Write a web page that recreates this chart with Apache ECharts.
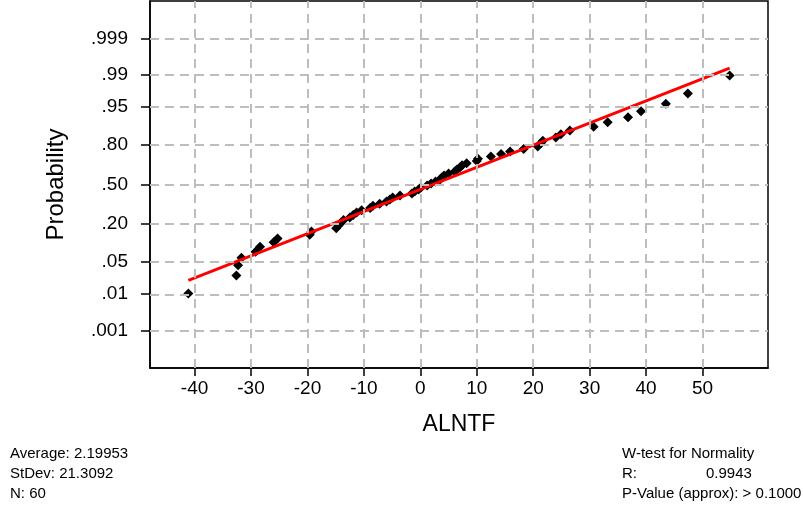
<!DOCTYPE html>
<html>
<head>
<meta charset="utf-8">
<script src="https://cdn.jsdelivr.net/npm/echarts@6/dist/echarts.min.js"></script>
<style>
html,body{margin:0;padding:0;background:#fff;}
#c{width:803px;height:508px;}
</style>
</head>
<body>
<div id="c"></div>
<script>
// ---- data ----
const values = [
  -41.1, -32.6, -32.3, -31.7, -29.2, -28.4, -26.0, -25.3, -19.6, -19.3,
  -14.9, -14.5, -14.0, -13.6, -12.5, -11.9, -11.3, -10.4, -8.9, -8.4,
  -7.2, -6.0, -5.4, -4.9, -3.6, -1.5, -1.0, -0.3, 0.1, 1.2,
  1.9, 2.7, 3.5, 3.8, 4.2, 5.0, 6.1, 6.5, 7.0, 7.4,
  8.2, 10.0, 10.2, 12.5, 14.3, 15.9, 18.3, 20.8, 21.3, 21.7,
  24.0, 24.9, 26.5, 30.7, 33.2, 36.8, 39.1, 43.5, 47.4, 54.8
];
const probTicks = [0.001, 0.01, 0.05, 0.20, 0.50, 0.80, 0.95, 0.99, 0.999];
const probLabels = ['.001', '.01', '.05', '.20', '.50', '.80', '.95', '.99', '.999'];
const xTicks = [-40, -30, -20, -10, 0, 10, 20, 30, 40, 50];
const average = 2.19953;
const stdev = 21.3092;
const statsLeft = ['Average: 2.19953', 'StDev: 21.3092', 'N: 60'];
const statsRightTitle = 'W-test for Normality';
const statsR = ['R:', '0.9943'];
const statsP = 'P-Value (approx): > 0.1000';

// inverse standard normal CDF (probability-scale transform)
function normInv(p){
  const a=[-3.969683028665376e+01,2.209460984245205e+02,-2.759285104469687e+02,1.383577518672690e+02,-3.066479806614716e+01,2.506628277459239e+00];
  const b=[-5.447609879822406e+01,1.615858368580409e+02,-1.556989798598866e+02,6.680131188771972e+01,-1.328068155288572e+01];
  const c=[-7.784894002430293e-03,-3.223964580411365e-01,-2.400758277161838e+00,-2.549732539343734e+00,4.374664141464968e+00,2.938163982698783e+00];
  const d=[7.784695709041462e-03,3.224671290700398e-01,2.445134137142996e+00,3.754408661907416e+00];
  const pl=0.02425, ph=1-pl; let q,r;
  if(p<pl){q=Math.sqrt(-2*Math.log(p));return (((((c[0]*q+c[1])*q+c[2])*q+c[3])*q+c[4])*q+c[5])/((((d[0]*q+d[1])*q+d[2])*q+d[3])*q+1);}
  if(p<=ph){q=p-0.5;r=q*q;return (((((a[0]*r+a[1])*r+a[2])*r+a[3])*r+a[4])*r+a[5])*q/(((((b[0]*r+b[1])*r+b[2])*r+b[3])*r+b[4])*r+1);}
  q=Math.sqrt(-2*Math.log(1-p));return -(((((c[0]*q+c[1])*q+c[2])*q+c[3])*q+c[4])*q+c[5])/((((d[0]*q+d[1])*q+d[2])*q+d[3])*q+1);
}

const n = values.length;
const sorted = values.slice().sort((x,y)=>x-y);
// plotting positions (Blom) mapped onto the normal probability scale
const points = sorted.map((v,i)=>[v, normInv((i+1-0.375)/(n+0.25))]);
const zTicks = probTicks.map(normInv);
const xMinData = sorted[0], xMaxData = sorted[n-1];
const fitLine = [xMinData, xMaxData].map(x=>[x, (x-average)/stdev]);

const FONT = "'Liberation Sans', Arial, sans-serif";
const gridLineStyle = {type:[9,6], color:'#bdbdbd', width:2};

const chart = echarts.init(document.getElementById('c'), null, {renderer:'canvas'});
chart.setOption({
  animation:false,
  backgroundColor:'#fff',
  grid:{left:150, top:1, right:35, bottom:140, show:true, borderColor:'#000', borderWidth:1.5, backgroundColor:'transparent'},
  xAxis:{
    type:'value', min:-47.9, max:61.6,
    name:'ALNTF', nameLocation:'middle', nameGap:45,
    nameTextStyle:{fontFamily:FONT, fontSize:23, color:'#000'},
    axisLine:{show:true, onZero:false, lineStyle:{color:'#000', width:1.5}},
    axisTick:{show:true, inside:false, length:8, customValues:xTicks, lineStyle:{color:'#000', width:1.5}},
    axisLabel:{customValues:xTicks, margin:11, fontFamily:FONT, fontSize:19, color:'#000'},
    splitLine:{show:false}
  },
  yAxis:{
    type:'value', min:-3.89, max:3.89,
    name:'Probability', nameLocation:'middle', nameGap:82, nameRotate:90,
    nameTextStyle:{fontFamily:FONT, fontSize:24, color:'#000'},
    axisLine:{show:true, onZero:false, lineStyle:{color:'#000', width:1.5}},
    axisTick:{show:true, inside:false, length:9, customValues:zTicks, lineStyle:{color:'#000', width:1.5}},
    axisLabel:{customValues:zTicks, margin:22, fontFamily:FONT, fontSize:19, color:'#000',
      formatter:function(v){
        for(let i=0;i<zTicks.length;i++){ if(Math.abs(zTicks[i]-v)<1e-6) return probLabels[i]; }
        return '';
      }},
    splitLine:{show:false}
  },
  series:[
    {
      type:'line', data:[], silent:true, z:1,
      markLine:{
        silent:true, symbol:['none','none'], label:{show:false},
        lineStyle:gridLineStyle, animation:false,
        data: zTicks.map(z=>({yAxis:z})).concat(xTicks.map(x=>({xAxis:x})))
      }
    },
    {
      type:'scatter', data:points, symbol:'diamond', symbolSize:10,
      itemStyle:{color:'#000', opacity:1}, z:3, silent:true
    },
    {
      type:'line', data:fitLine, showSymbol:false, symbol:'none',
      lineStyle:{color:'#ff0000', width:3}, z:4, silent:true
    }
  ],
  graphic:[
    {type:'text', left:10, top:446, style:{text:statsLeft[0], fontFamily:FONT, fontSize:15, fill:'#000'}},
    {type:'text', left:10, top:466, style:{text:statsLeft[1], fontFamily:FONT, fontSize:15, fill:'#000'}},
    {type:'text', left:10, top:486, style:{text:statsLeft[2], fontFamily:FONT, fontSize:15, fill:'#000'}},
    {type:'text', left:622, top:446, style:{text:statsRightTitle, fontFamily:FONT, fontSize:15, fill:'#000'}},
    {type:'text', left:622, top:466, style:{text:statsR[0], fontFamily:FONT, fontSize:15, fill:'#000'}},
    {type:'text', left:706, top:466, style:{text:statsR[1], fontFamily:FONT, fontSize:15, fill:'#000'}},
    {type:'text', left:622, top:486, style:{text:statsP, fontFamily:FONT, fontSize:15, fill:'#000'}}
  ]
});
</script>
</body>
</html>
